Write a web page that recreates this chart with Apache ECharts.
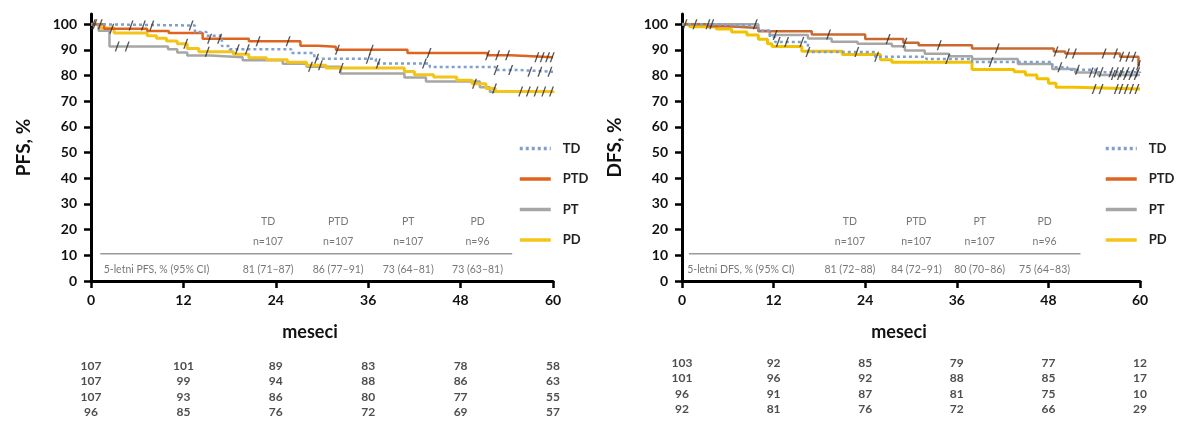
<!DOCTYPE html>
<html><head><meta charset="utf-8">
<script src="https://cdn.jsdelivr.net/npm/echarts@6/dist/echarts.min.js"></script>
<style>html,body{margin:0;padding:0;background:#fff}#c{width:1177px;height:425px}</style>
</head><body><div id="c"></div>
<script>
// ---------- DATA ----------
const groups = ['TD', 'PTD', 'PT', 'PD'];
const monthTicks = [0, 12, 24, 36, 48, 60];
const yTicks = [0, 10, 20, 30, 40, 50, 60, 70, 80, 90, 100];

// PFS (left) Kaplan-Meier steps [month, %]
const pfsTD  = [[0,100],[1,99.5],[13.5,97],[15,95.5],[17,91.5],[18,90.3],[26,88.8],[29,86.6],[37,84.7],[44,83.4],[52.5,82.2],[55.5,81.5],[60,81.5]];
const pfsPTD = [[0,100],[1.7,98.3],[7.3,97.4],[10.1,96.6],[14.5,94.4],[20.5,93.4],[27.2,91.6],[29.5,91.2],[31.8,90.1],[41.1,88.8],[51.5,87.9],[54.5,87.2],[60,87.2]];
const pfsPT  = [[0,100],[1,97.5],[2.4,91.3],[10,90.3],[11.2,89],[12.5,87.8],[15.5,87.2],[19.7,86],[24.9,84.6],[28,83.5],[32.4,80.8],[40.7,79.3],[43.5,77.7],[50.5,75.5],[51.8,73.7],[60,73.5]];
const pfsPD  = [[0,100],[1.2,98.5],[3,96.6],[7.3,95.5],[8.5,94.6],[9.8,93.5],[11.2,92.4],[12.5,90.6],[14,89.3],[18.5,88.3],[20.5,87],[22.8,86.2],[25.5,85.2],[28,84],[30.5,83],[40.7,81.6],[42,80.3],[44.5,79.5],[47.5,78.2],[49.5,76.8],[51.3,75],[52.5,73.8],[60,73.2]];
// PFS censored times (months)
const pfsCensTD  = [0.5,5.2,6.8,7.9,13,19,20.3,29.3,36,37.3,43.3,52.6,54.5,57,58.3,59.6];
const pfsCensPTD = [1.2,2.7,15.4,16.7,21.7,25.6,32,36.4,43.9,51.5,52.8,54.1,57.9,58.6,59.3,59.9];
const pfsCensPT  = [0.3,3.4,4.7,28.5];
const pfsCensPD  = [12.3,15.1,29.8,32.5,49.8,52.4,55.8,56.8,57.8,58.8,59.8];
// PFS number at risk
const pfsRiskTD  = [107,101,89,83,78,58];
const pfsRiskPTD = [107,99,94,88,86,63];
const pfsRiskPT  = [107,93,86,80,77,55];
const pfsRiskPD  = [96,85,76,72,69,57];
const pfsN    = ['n=107','n=107','n=107','n=96'];
const pfs5yr  = ['81 (71–87)','86 (77–91)','73 (64–81)','73 (63–81)'];
const pfsRowLabel = '5-letni PFS, % (95% CI)';

// DFS (right)
const dfsTD  = [[0,100],[4,99.4],[10,97.5],[11.5,95],[12.2,93.1],[16.5,89.2],[25.3,87.3],[32,86.5],[38,85.3],[48.5,83.3],[50.5,82.3],[54.5,81.3],[60,81]];
const dfsPTD = [[0,100],[3.4,99.2],[6,98.5],[10,97.3],[17,96],[24,94.3],[29,92.8],[31,91.8],[38,90.6],[48.7,89.4],[50.2,88.6],[57.4,87.3],[59.8,84],[60,84]];
const dfsPT  = [[0,100],[10,97.5],[11.5,95.8],[16.5,94.5],[19.6,93.2],[23,92.4],[27.5,91.4],[29.2,89.8],[31.8,88.5],[35,87.5],[38,86.5],[44,84.5],[48.5,82.6],[51.5,81.2],[54.5,80.2],[60,80]];
const dfsPD  = [[0,100],[1,99],[4.5,98.2],[6.5,97],[8.5,95.8],[10,94.2],[11.2,92.4],[11.8,91.3],[15.7,89.5],[21,88.2],[26,86.2],[27.5,85.2],[38,82.4],[43.5,81.5],[45,80.2],[46.5,78.8],[48,77],[49,75.5],[51.5,74.8],[60,74.6]];
const dfsCensTD  = [3.4,3.9,12.6,13.7,15.7,16.5,22.9,25.5,34.8,40.5,49.5,51.8,54.9,56.2,56.9,57.6,58.3,59,59.7];
const dfsCensPTD = [0.4,1.7,19.2,27,29.2,33.7,41.3,49,50.5,51.4,55.3,56.8,57.6,58.4,59.2,59.8];
const dfsCensPT  = [9.6,12.2,53.6,54.2,56.5,57.3,58.1,58.8,59.5];
const dfsCensPD  = [54,54.9,56.9,57.5,58.2,58.9,59.6];
const dfsRiskTD  = [103,92,85,79,77,12];
const dfsRiskPTD = [101,96,92,88,85,17];
const dfsRiskPT  = [96,91,87,81,75,10];
const dfsRiskPD  = [92,81,76,72,66,29];
const dfsN    = ['n=107','n=107','n=107','n=96'];
const dfs5yr  = ['81 (72–88)','84 (72–91)','80 (70–86)','75 (64–83)'];
const dfsRowLabel = '5-letni DFS, % (95% CI)';

// ---------- LAYOUT / STYLE ----------
const FONT = 'Lato, "Liberation Sans", sans-serif';
const panels = [
  { yName: 'PFS, %', curves: [pfsTD, pfsPTD, pfsPT, pfsPD], cens: [pfsCensTD, pfsCensPTD, pfsCensPT, pfsCensPD],
    risk: [pfsRiskTD, pfsRiskPTD, pfsRiskPT, pfsRiskPD], nLab: pfsN, fiveYr: pfs5yr, rowLabel: pfsRowLabel,
    colors: ['#7F9FD0', '#DE6420', '#A6A6A6', '#F4C41A'],
    lay: { left: 91, width: 462, legendLeft: 513, riskTop: 358, headX: [23, 32.1, 41.2, 50.2], rowLabX: 8.5, lineX: [1.2, 54.7] } },
  { yName: 'DFS, %', curves: [dfsTD, dfsPTD, dfsPT, dfsPD], cens: [dfsCensTD, dfsCensPTD, dfsCensPT, dfsCensPD],
    risk: [dfsRiskTD, dfsRiskPTD, dfsRiskPT, dfsRiskPD], nLab: dfsN, fiveYr: dfs5yr, rowLabel: dfsRowLabel,
    colors: ['#7F9FD0', '#C9692F', '#A6A6A6', '#F2C200'],
    lay: { left: 682, width: 458, legendLeft: 1099, riskTop: 355, headX: [22, 30.7, 39, 47.5], rowLabX: 7.7, lineX: [0.9, 52.2] } }
];
const PLOT_TOP = 14, PLOT_H = 267, YMAX = 104;
const Y_HEAD = 23.2, Y_N = 15.3, Y_VAL = 4.6, Y_LINE = 10.6;

function stepValue(steps, t) {
  let v = steps[0][1];
  for (const p of steps) { if (p[0] <= t) v = p[1]; else break; }
  return v;
}

const grid = [], xAxis = [], yAxis = [], series = [], legend = [];
const drawOrder = [2, 3, 1, 0]; // PT, PD, PTD, TD (TD on top)

panels.forEach((P, pi) => {
  const g = pi * 2;
  grid.push({ left: P.lay.left, width: P.lay.width, top: PLOT_TOP, height: PLOT_H });
  grid.push({ left: P.lay.left, width: P.lay.width, top: P.lay.riskTop, height: 62 });

  xAxis.push({
    gridIndex: g, type: 'value', min: 0, max: 60, interval: 12,
    name: 'meseci', nameLocation: 'middle', nameGap: 42,
    nameTextStyle: { fontFamily: FONT, fontWeight: 'bold', fontSize: 18, color: '#111', padding: [0, 24, 0, 0] },
    axisLine: { lineStyle: { color: '#000', width: 3 } },
    axisTick: { length: 7, lineStyle: { color: '#000', width: 2.5 } },
    axisLabel: { margin: 12, fontFamily: FONT, fontWeight: 'bold', fontSize: 14, color: '#111' },
    splitLine: { show: false }
  });
  yAxis.push({
    gridIndex: g, type: 'value', min: 0, max: YMAX,
    name: P.yName, nameLocation: 'middle', nameGap: 58,
    nameTextStyle: { fontFamily: FONT, fontWeight: 'bold', fontSize: 19, color: '#111' },
    axisLine: { show: true, lineStyle: { color: '#000', width: 3 } },
    axisTick: { show: true, length: 7, customValues: yTicks, lineStyle: { color: '#000', width: 2.5 } },
    axisLabel: { margin: 14, customValues: yTicks, fontFamily: FONT, fontWeight: 'bold', fontSize: 14, color: '#111' },
    splitLine: { show: false }
  });
  xAxis.push({ gridIndex: g + 1, type: 'value', min: 0, max: 60, show: false });
  yAxis.push({ gridIndex: g + 1, type: 'category', data: groups, inverse: true, show: false });

  legend.push({
    data: groups, orient: 'vertical', left: P.lay.legendLeft, top: 137,
    itemWidth: 31, itemHeight: 14, itemGap: 17.5, selectedMode: false,
    itemStyle: { opacity: 0 },
    lineStyle: { width: 3.5 },
    textStyle: { fontFamily: FONT, fontWeight: 'bold', fontSize: 13, color: '#222', padding: [0, 0, 0, 7] }
  });

  // survival curves
  drawOrder.forEach(k => {
    const isTD = k === 0;
    series.push({
      name: groups[k], type: 'line', step: 'end', xAxisIndex: g, yAxisIndex: g,
      data: P.curves[k], symbol: 'none', showSymbol: false, silent: true, z: 3 + (isTD ? 1 : 0),
      color: P.colors[k],
      lineStyle: { color: P.colors[k], width: k === 3 ? 3 : 2.5, type: isTD ? [3, 3] : 'solid', cap: 'butt' }
    });
  });
  // censor marks
  groups.forEach((gname, k) => {
    series.push({
      name: gname + ' cens', type: 'scatter', xAxisIndex: g, yAxisIndex: g, silent: true, z: 6,
      symbol: 'path://M0,10 L1.4,10 L5,0 L3.6,0 Z', symbolSize: [5, 10],
      itemStyle: { color: '#2a2a2a' },
      data: P.cens[k].map(t => [t, stepValue(P.curves[k], t)])
    });
  });
  // inner table separator line
  series.push({
    name: 'sep', type: 'line', xAxisIndex: g, yAxisIndex: g, symbol: 'none', silent: true,
    lineStyle: { color: '#9a9a9a', width: 1.5 },
    data: [[P.lay.lineX[0], Y_LINE], [P.lay.lineX[1], Y_LINE]]
  });
  // inner table texts
  const txt = [];
  groups.forEach((gname, k) => {
    txt.push({ value: [P.lay.headX[k], Y_HEAD], t: gname });
    txt.push({ value: [P.lay.headX[k], Y_N], t: P.nLab[k] });
    txt.push({ value: [P.lay.headX[k], Y_VAL], t: P.fiveYr[k] });
  });
  txt.push({ value: [P.lay.rowLabX, Y_VAL], t: P.rowLabel });
  series.push({
    name: 'tbl', type: 'scatter', xAxisIndex: g, yAxisIndex: g, silent: true, symbolSize: 1,
    itemStyle: { color: 'transparent' },
    label: { show: true, position: 'inside', formatter: p => p.data.t, fontFamily: FONT, fontSize: 10.5, color: '#555' },
    data: txt
  });
  // number at risk
  const rk = [];
  groups.forEach((gname, k) => {
    P.risk[k].forEach((n, c) => rk.push({ value: [monthTicks[c], gname], t: String(n) }));
  });
  series.push({
    name: 'risk', type: 'scatter', xAxisIndex: g + 1, yAxisIndex: g + 1, silent: true, symbolSize: 1,
    itemStyle: { color: 'transparent' },
    label: { show: true, position: 'inside', formatter: p => p.data.t, fontFamily: FONT, fontWeight: 'bold', fontSize: 12, color: '#222' },
    data: rk
  });
});

const chart = echarts.init(document.getElementById('c'), null, { renderer: 'canvas' });
chart.setOption({ animation: false, backgroundColor: '#fff', grid, xAxis, yAxis, legend, series });
</script></body></html>
